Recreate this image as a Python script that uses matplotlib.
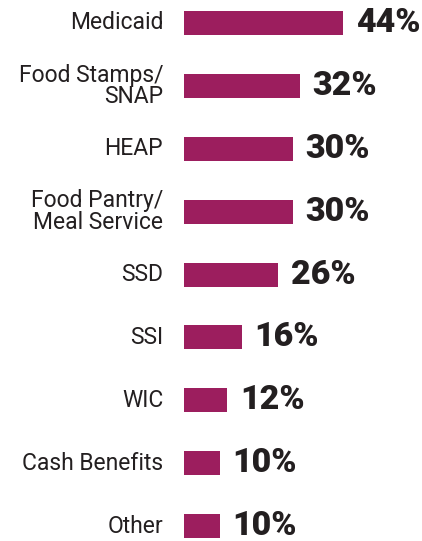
import matplotlib.pyplot as plt

labels = ["Medicaid", "Food Stamps/\nSNAP", "HEAP", "Food Pantry/\nMeal Service",
          "SSD", "SSI", "WIC", "Cash Benefits", "Other"]
values = [44, 32, 30, 30, 26, 16, 12, 10, 10]

W, H = 422, 541
fig = plt.figure(figsize=(W / 100, H / 100), dpi=100)

x0 = 184          # pixel where bars start
px_per = 3.62     # pixels per percent
y_first = 23
step = 62.9

ax = fig.add_axes([x0 / W, 0, 1 - x0 / W, 1])
ax.set_xlim(0, (W - x0) / px_per)
ax.set_ylim((H - y_first) / step, -y_first / step)
ax.axis("off")

ypos = list(range(len(values)))
ax.barh(ypos, values, height=24 / step, color="#9c1e5e")

for y, v, lab in zip(ypos, values, labels):
    ax.annotate(f"{v}%", (v, y), xytext=(9, 0), textcoords="offset points",
                ha="left", va="center", fontsize=24.5, fontweight="black",
                family="Roboto", color="#231f20")
    ax.annotate(lab, (0, y), xytext=(-15, 0), textcoords="offset points",
                ha="right", va="center", multialignment="right",
                fontsize=16.5, family="Roboto", color="#231f20", linespacing=0.92)

fig.savefig("out.png", dpi=100)
